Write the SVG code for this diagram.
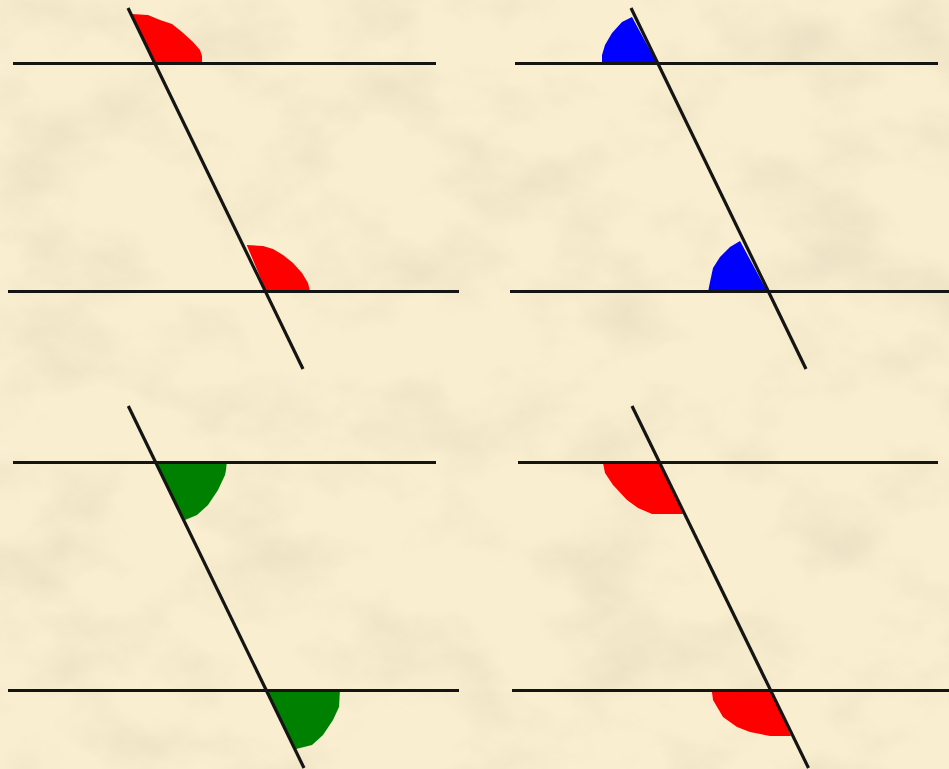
<svg xmlns="http://www.w3.org/2000/svg" width="949" height="769" viewBox="0 0 949 769">
<defs>
<filter id="paper" x="0" y="0" width="100%" height="100%" filterUnits="userSpaceOnUse">
<feTurbulence type="fractalNoise" baseFrequency="0.009 0.013" numOctaves="5" seed="7"/>
<feColorMatrix type="matrix" values="0 0 0 0 0.84  0 0 0 0 0.75  0 0 0 0 0.55  2.2 0 0 0 -0.98"/>
</filter>
<style>
.bg{fill:#f9eecf}
.ln{stroke:#141414;stroke-width:3.2;stroke-linecap:butt;fill:none}
.red{fill:#ff0000}
.blue{fill:#0000ff}
.green{fill:#008000}
</style>
</defs>
<rect class="bg" x="0" y="0" width="949" height="769"/>
<rect x="0" y="0" width="949" height="769" fill="#000" filter="url(#paper)"/>

<g id="panel-top-left">
<path class="red" d="M153,63 L132,14 L148,15 L160,20 L172,24 L182,32 L193,42 L200,50 L202,56 L202,63 Z"/>
<path class="red" d="M266,291 L246.7,245 L263,246 L273,249 L283,255 L293,263 L302,273 L308,283 L310,291 Z"/>
</g>
<g id="panel-top-right">
<path class="blue" d="M657,63 L632,17 L622,22 L612,33 L605,45 L602,55 L602,63 Z"/>
<path class="blue" d="M767,291 L740,241 L730,247 L720,257 L713,268 L710,282 L708,292 Z"/>
</g>
<g id="panel-bottom-left">
<path class="green" d="M156,463 L226.7,463 L226,470 L225,475 L218,490 L208,505 L197,515 L185,520 Z"/>
<path class="green" d="M266.7,690 L340,690 L339,707 L333,720 L323,735 L312,745 L296,749 Z"/>
</g>
<g id="panel-bottom-right">
<path class="red" d="M660,463 L603,463 L605,473 L613,485 L627,500 L638,508 L652,514 L683,514 Z"/>
<path class="red" d="M771,690 L711.7,690 L713,700 L723,717 L737,727 L750,732 L770,736 L791,736 Z"/>
</g>

<g id="lines">
<line class="ln" x1="13" y1="63.5" x2="436" y2="63.5"/>
<line class="ln" x1="8" y1="291.5" x2="459" y2="291.5"/>
<line class="ln" x1="128" y1="8" x2="303" y2="369"/>

<line class="ln" x1="515" y1="63.5" x2="938" y2="63.5"/>
<line class="ln" x1="510" y1="291.5" x2="949" y2="291.5"/>
<line class="ln" x1="631" y1="8" x2="806" y2="369"/>

<line class="ln" x1="13" y1="462.5" x2="436" y2="462.5"/>
<line class="ln" x1="8" y1="690.5" x2="459" y2="690.5"/>
<line class="ln" x1="128.3" y1="406" x2="304" y2="768"/>

<line class="ln" x1="518" y1="462.5" x2="938" y2="462.5"/>
<line class="ln" x1="512" y1="690.5" x2="949" y2="690.5"/>
<line class="ln" x1="632" y1="406" x2="808.5" y2="768"/>
</g>
</svg>
